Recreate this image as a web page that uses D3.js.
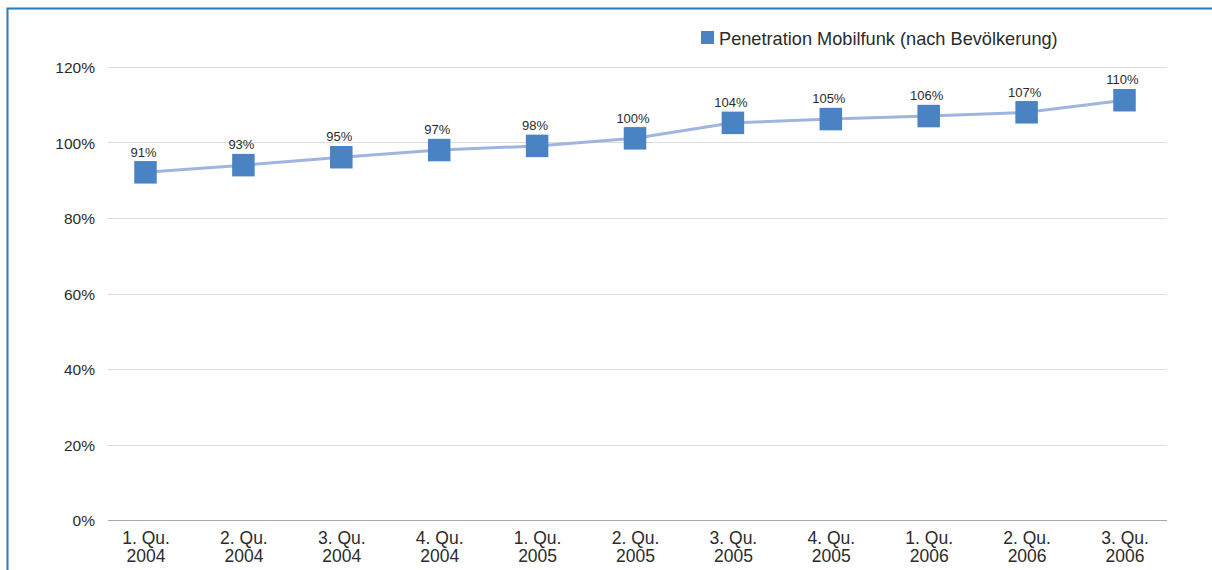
<!DOCTYPE html>
<html>
<head>
<meta charset="utf-8">
<script src="https://cdn.jsdelivr.net/npm/d3@7"></script>
<style>
  body { margin: 0; background: #fff; }
  svg { display: block; font-family: "Liberation Sans", Arial, sans-serif; }
</style>
</head>
<body>
<svg id="chart" width="1212" height="570"></svg>
<script>
// quarters (two-line tick labels)
var quarters = ["1. Qu.|2004", "2. Qu.|2004", "3. Qu.|2004", "4. Qu.|2004",
                "1. Qu.|2005", "2. Qu.|2005", "3. Qu.|2005", "4. Qu.|2005",
                "1. Qu.|2006", "2. Qu.|2006", "3. Qu.|2006"];
// plotted values (marker positions) and the printed data labels
var penetration = [92.1, 94.0, 96.1, 98.0, 99.1, 101.1, 105.2, 106.2, 107.0, 108.0, 111.2];
var valueLabels = ["91%", "93%", "95%", "97%", "98%", "100%", "104%", "105%", "106%", "107%", "110%"];
var yTicks = [0, 20, 40, 60, 80, 100, 120];
var seriesName = "Penetration Mobilfunk (nach Bevölkerung)";

var plot = {left: 108, right: 1167, top: 67, bottom: 520};
var textColor = "#2b2b2b";

var svg = d3.select("#chart");

// frame (blue top + left edge)
svg.append("path")
  .attr("d", "M7.5,570 L7.5,8.5 L1212,8.5")
  .attr("fill", "none")
  .attr("stroke", "#2a7bbf")
  .attr("stroke-width", 2);

var y = d3.scaleLinear().domain([0, 120]).range([plot.bottom, plot.top]);
var x = d3.scalePoint().domain(quarters).range([plot.left + 37.5, plot.right - 42.5]);

// gridlines
svg.append("g").selectAll("line")
  .data(yTicks)
  .join("line")
    .attr("x1", plot.left).attr("x2", plot.right)
    .attr("y1", function(d) { return Math.round(y(d)) + 0.5; })
    .attr("y2", function(d) { return Math.round(y(d)) + 0.5; })
    .attr("stroke", function(d) { return d === 0 ? "#a6a6a6" : "#dcdcdc"; })
    .attr("stroke-width", 1.2);

// y axis labels
var yAxis = d3.axisLeft(y).tickValues(yTicks)
  .tickFormat(function(d) { return d + "%"; })
  .tickSize(0).tickPadding(13);
var gy = svg.append("g").attr("transform", "translate(" + plot.left + ",0)").call(yAxis);
gy.select(".domain").remove();
gy.selectAll("text")
  .attr("fill", textColor)
  .style("font-size", "15.5px")
  .attr("dy", "0.36em");

// x axis labels (two lines)
var xAxis = d3.axisBottom(x).tickSize(0).tickFormat(function() { return ""; });
var gx = svg.append("g").attr("transform", "translate(0," + plot.bottom + ")").call(xAxis);
gx.select(".domain").remove();
gx.selectAll(".tick text").remove();
gx.selectAll(".tick").each(function(d) {
  var parts = d.split("|");
  var t = d3.select(this).append("text")
    .attr("text-anchor", "middle")
    .attr("fill", textColor)
    .style("font-size", "17.5px");
  t.append("tspan").attr("x", 0).attr("y", 24).text(parts[0]);
  t.append("tspan").attr("x", 0).attr("y", 42).text(parts[1]);
});

// series line
var line = d3.line()
  .x(function(d, i) { return x(quarters[i]); })
  .y(function(d) { return y(d); });

svg.append("path")
  .datum(penetration)
  .attr("d", line)
  .attr("fill", "none")
  .attr("stroke", "#9fb5df")
  .attr("stroke-width", 3);

// markers
var ms = 22.5;
svg.append("g").selectAll("rect")
  .data(penetration)
  .join("rect")
    .attr("x", function(d, i) { return x(quarters[i]) - ms / 2; })
    .attr("y", function(d) { return y(d) - ms / 2; })
    .attr("width", ms).attr("height", ms)
    .attr("fill", "#4a83c4");

// data labels
svg.append("g").selectAll("text")
  .data(penetration)
  .join("text")
    .attr("x", function(d, i) { return x(quarters[i]) - 2; })
    .attr("y", function(d) { return y(d) - ms / 2 - 4.5; })
    .attr("text-anchor", "middle")
    .attr("fill", textColor)
    .style("font-size", "13px")
    .text(function(d, i) { return valueLabels[i]; });

// legend
var lg = svg.append("g").attr("transform", "translate(701,31)");
lg.append("rect").attr("width", 13).attr("height", 13).attr("fill", "#4a83c4");
lg.append("text")
  .attr("x", 18).attr("y", 14)
  .attr("fill", textColor)
  .style("font-size", "18.2px")
  .text(seriesName);
</script>
</body>
</html>
